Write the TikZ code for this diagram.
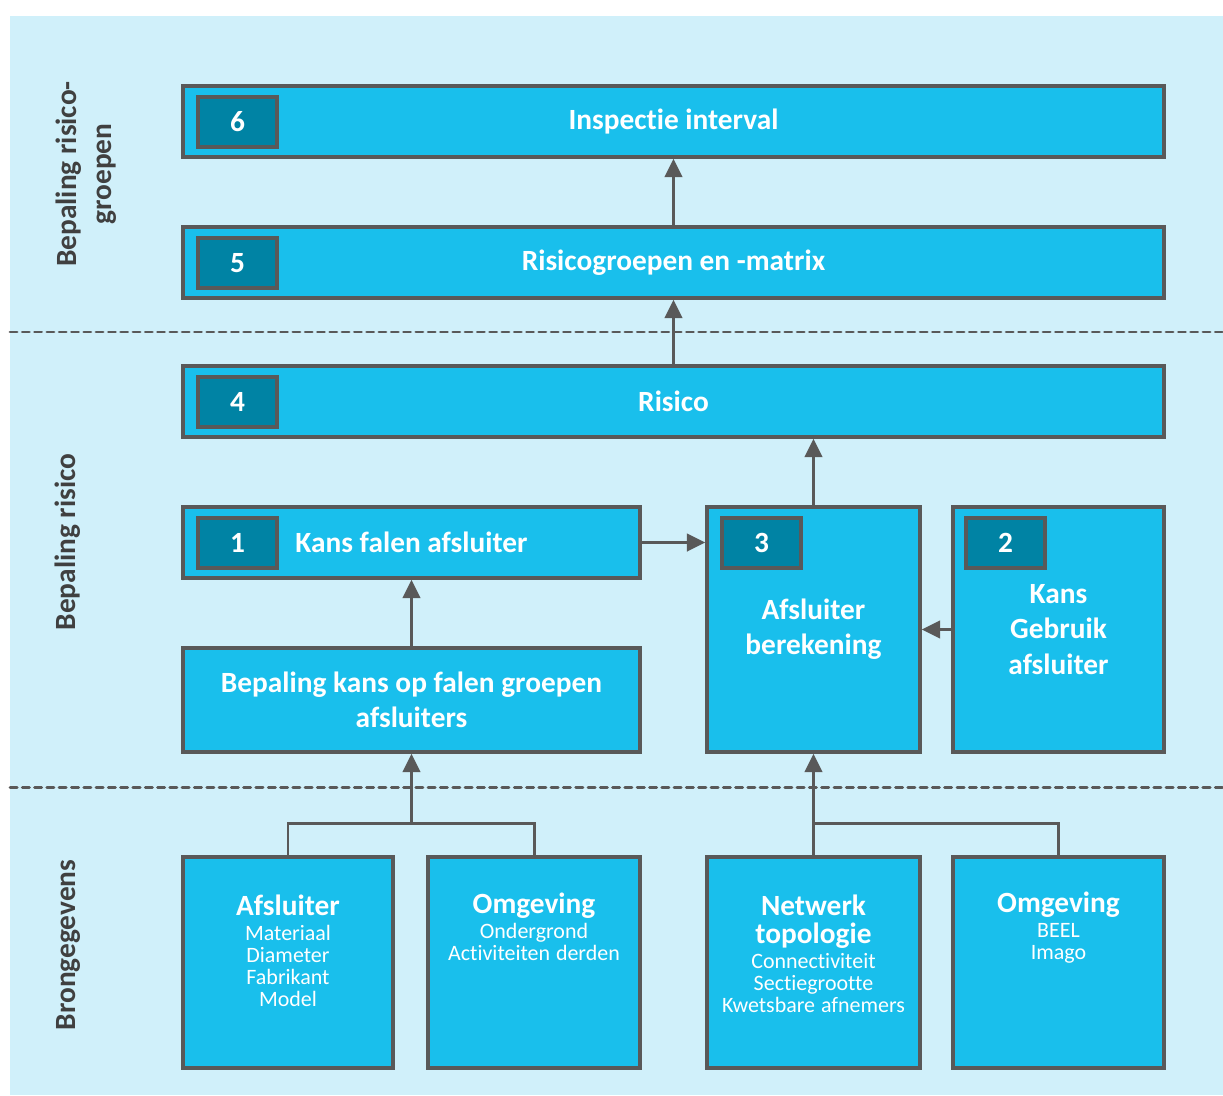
\documentclass[tikz,border=0pt]{standalone}
\usepackage{fontspec}
\setmainfont{Carlito}[Ligatures=NoCommon]
\usetikzlibrary{calc}
\usetikzlibrary{arrows.meta}
\definecolor{achtergrond}{HTML}{D0F0FA}
\definecolor{blokblauw}{HTML}{19BFEC}
\definecolor{nummerblauw}{HTML}{0083A4}
\definecolor{lijngrijs}{HTML}{595959}
\definecolor{labelgrijs}{HTML}{404040}
\newcommand{\grootfont}{\fontsize{16.7}{20}\selectfont\bfseries}
\newcommand{\kopfont}{\fontsize{16.7}{15.9}\selectfont\bfseries}
\newcommand{\kleinfont}{\fontsize{12.5}{12.5}\selectfont}
\tikzset{
	blok/.style={draw=lijngrijs, line width=2pt, fill=blokblauw, text=white, font=\grootfont, align=center, inner sep=0pt},
	nummer/.style={draw=lijngrijs, line width=2pt, fill=nummerblauw, text=white, font=\grootfont, minimum width=1.58cm, minimum height=1cm, anchor=north west, inner sep=0pt},
	pijl/.style={draw=lijngrijs, line width=1.7pt, -{Triangle[length=10.5pt,width=10pt]}},
	lijn/.style={draw=lijngrijs, line width=1.7pt},
	scheiding/.style={draw=lijngrijs, line width=1.7pt, dash pattern=on 4pt off 3pt, line cap=round},
	zijlabel/.style={text=labelgrijs, font=\grootfont, rotate=90, align=center, inner sep=0pt},
	bron/.style={text=white, align=center, anchor=north, inner sep=0pt, text width=4cm},
}

\begin{document}
\begin{tikzpicture}[x=0.02cm, y=-0.02cm]
		\useasboundingbox (0,0) rectangle (1223,1095);
		\fill[achtergrond] (10,16) rectangle (1223,1095);
		% scheidingslijnen
		\draw[scheiding] (10,332) -- (1223,332);
		\draw[scheiding] (10,787) -- (1223,787);
		% zijlabels
		\node[zijlabel] (l1) at (86,174) {Bepaling risico-\\groepen};
		\node[zijlabel] (l2) at (68,542) {Bepaling risico};
		\node[zijlabel] (l3) at (68,945) {Brongegevens};
		% stappen
		\node[blok, minimum width=19.62cm, minimum height=1.42cm] (b6) at (673.5,121.5) {Inspectie interval};
		\node[blok, minimum width=19.62cm, minimum height=1.42cm] (b5) at (673.5,262.5) {Risicogroepen en -matrix};
		\node[blok, minimum width=19.62cm, minimum height=1.42cm] (b4) at (673.5,401.5) {Risico};
		\node[blok, minimum width=9.14cm, minimum height=1.42cm] (b1) at (411.5,542.5) {Kans falen afsluiter};
		\node[blok, minimum width=9.14cm, minimum height=2.08cm] (kans) at (411.5,700) {Bepaling kans op falen groepen\\afsluiters};
		\node[blok, minimum width=4.26cm, minimum height=4.9cm] (b3) at (813.5,629.5) {Afsluiter\\berekening};
		\node[blok, minimum width=4.22cm, minimum height=4.9cm] (b2) at (1058.5,629.5) {Kans\\Gebruik\\afsluiter};
		\node[nummer] (n6) at ($ (b6.north west) + (15,11) $) {6};
		\node[nummer] (n5) at ($ (b5.north west) + (15,11) $) {5};
		\node[nummer] (n4) at ($ (b4.north west) + (15,11) $) {4};
		\node[nummer] (n1) at ($ (b1.north west) + (15,11) $) {1};
		\node[nummer] (n3) at ($ (b3.north west) + (15,11) $) {3};
		\node[nummer] (n2) at ($ (b2.north west) + (13,11) $) {2};
		% brongegevens
		\node[blok, minimum width=4.2cm, minimum height=4.22cm] (afs) at (288,962.5) {};
		\node[blok, minimum width=4.24cm, minimum height=4.22cm] (omg1) at (534,962.5) {};
		\node[blok, minimum width=4.26cm, minimum height=4.22cm] (net) at (813.5,962.5) {};
		\node[blok, minimum width=4.22cm, minimum height=4.22cm] (omg2) at (1058.5,962.5) {};
		\node[bron] (afs-t) at ($ (afs.north) + (0,39) $) {{\kopfont Afsluiter\par}\vspace{1.7pt}{\kleinfont Materiaal\\Diameter\\Fabrikant\\Model\par}};
		\node[bron] (omg1-t) at ($ (omg1.north) + (0,37) $) {{\kopfont Omgeving\par}\vspace{1.7pt}{\kleinfont Ondergrond\\Activiteiten derden\par}};
		\node[bron] (net-t) at ($ (net.north) + (0,39) $) {{\kopfont Netwerk\\topologie\par}\vspace{2.2pt}{\kleinfont Connectiviteit\\Sectiegrootte\\Kwetsbare afnemers\par}};
		\node[bron] (omg2-t) at ($ (omg2.north) + (0,36) $) {{\kopfont Omgeving\par}\vspace{1.7pt}{\kleinfont BEEL\\Imago\par}};
		% verbindingen
		\coordinate (j1) at (411.5,823);
		\coordinate (j2) at (813.5,823);
		\draw[pijl] (b5.north) -- (b6.south);
		\draw[pijl] (b4.north) -- (b5.south);
		\draw[pijl] (b3.north) -- (b3.north |- b4.south);
		\draw[pijl] (b1.east) -- (b1.east -| b3.west);
		\draw[pijl] (b2.west) -- (b3.east);
		\draw[pijl] (kans.north) -- (b1.south);
		\draw[lijn] (afs.north) |- (j1) -| (omg1.north);
		\draw[pijl] (j1) -- (kans.south);
		\draw[pijl] (net.north) -- (b3.south);
		\draw[lijn] (j2) -| (omg2.north);
	\end{tikzpicture}
\end{document}
